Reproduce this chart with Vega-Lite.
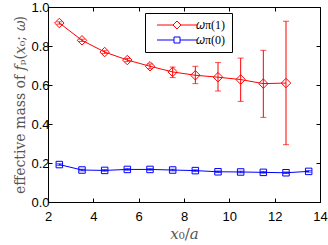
{
  "$schema": "https://vega.github.io/schema/vega-lite/v6.json",
  "width": 272,
  "height": 195,
  "autosize": {"type": "none"},
  "padding": {"left": 48, "top": 7, "right": 8, "bottom": 43},
  "background": "white",
  "config": {
    "view": {"stroke": "black", "strokeWidth": 1},
    "axis": {
      "grid": false,
      "domainColor": "black",
      "tickColor": "black",
      "tickSize": -4,
      "labelFont": "Liberation Sans",
      "labelFontSize": 13,
      "labelColor": "black",
      "labelOverlap": false,
      "labelFlush": false,
      "titleFont": "DejaVu Serif",
      "titleFontWeight": "normal",
      "titleColor": "#555555"
    }
  },
  "data": {
    "values": [
      {"series": "𝜔π(1)", "x": 2.5, "y": 0.918, "lo": 0.912, "hi": 0.924},
      {"series": "𝜔π(1)", "x": 3.5, "y": 0.829, "lo": 0.823, "hi": 0.835},
      {"series": "𝜔π(1)", "x": 4.5, "y": 0.769, "lo": 0.762, "hi": 0.776},
      {"series": "𝜔π(1)", "x": 5.5, "y": 0.728, "lo": 0.720, "hi": 0.736},
      {"series": "𝜔π(1)", "x": 6.5, "y": 0.696, "lo": 0.684, "hi": 0.708},
      {"series": "𝜔π(1)", "x": 7.5, "y": 0.667, "lo": 0.638, "hi": 0.692},
      {"series": "𝜔π(1)", "x": 8.5, "y": 0.650, "lo": 0.607, "hi": 0.696},
      {"series": "𝜔π(1)", "x": 9.5, "y": 0.640, "lo": 0.569, "hi": 0.715},
      {"series": "𝜔π(1)", "x": 10.5, "y": 0.628, "lo": 0.516, "hi": 0.738},
      {"series": "𝜔π(1)", "x": 11.5, "y": 0.607, "lo": 0.434, "hi": 0.778},
      {"series": "𝜔π(1)", "x": 12.5, "y": 0.610, "lo": 0.294, "hi": 0.927},
      {"series": "𝜔π(0)", "x": 2.5, "y": 0.192, "lo": 0.188, "hi": 0.196},
      {"series": "𝜔π(0)", "x": 3.5, "y": 0.164, "lo": 0.160, "hi": 0.168},
      {"series": "𝜔π(0)", "x": 4.5, "y": 0.162, "lo": 0.158, "hi": 0.166},
      {"series": "𝜔π(0)", "x": 5.5, "y": 0.167, "lo": 0.163, "hi": 0.171},
      {"series": "𝜔π(0)", "x": 6.5, "y": 0.167, "lo": 0.163, "hi": 0.171},
      {"series": "𝜔π(0)", "x": 7.5, "y": 0.164, "lo": 0.160, "hi": 0.168},
      {"series": "𝜔π(0)", "x": 8.5, "y": 0.161, "lo": 0.157, "hi": 0.165},
      {"series": "𝜔π(0)", "x": 9.5, "y": 0.155, "lo": 0.151, "hi": 0.159},
      {"series": "𝜔π(0)", "x": 10.5, "y": 0.154, "lo": 0.150, "hi": 0.158},
      {"series": "𝜔π(0)", "x": 11.5, "y": 0.152, "lo": 0.148, "hi": 0.156},
      {"series": "𝜔π(0)", "x": 12.5, "y": 0.150, "lo": 0.146, "hi": 0.154},
      {"series": "𝜔π(0)", "x": 13.5, "y": 0.157, "lo": 0.153, "hi": 0.161}
    ]
  },
  "resolve": {"axis": {"x": "independent", "y": "independent"}},
  "layer": [
    {
      "mark": {"type": "line", "strokeWidth": 1},
      "encoding": {
        "x": {"field": "x", "type": "quantitative", "scale": {"domain": [2, 14], "nice": false},
              "axis": {"orient": "bottom", "values": [2, 4, 6, 8, 10, 12, 14], "labelPadding": 12, "title": "𝑥₀/𝑎", "titleFontSize": 15, "titlePadding": 3}},
        "y": {"field": "y", "type": "quantitative", "scale": {"domain": [0, 1], "nice": false},
              "axis": {"orient": "left", "values": [0, 0.2, 0.4, 0.6, 0.8, 1.0], "format": ".1f", "labelPadding": 3, "title": "effective mass of 𝑓ₚ(𝑥₀; 𝜔)", "titleFontSize": 14, "titlePadding": 3}},
        "stroke": {"field": "series", "type": "nominal", "scale": {"range": ["#0000ff", "#ff0000"]}, "legend": null}
      }
    },
    {
      "mark": {"type": "rule", "strokeWidth": 1},
      "encoding": {
        "x": {"field": "x", "type": "quantitative", "axis": null},
        "y": {"field": "lo", "type": "quantitative", "axis": null},
        "y2": {"field": "hi"},
        "stroke": {"field": "series", "type": "nominal", "legend": null}
      }
    },
    {
      "mark": {"type": "tick", "orient": "horizontal", "size": 6, "thickness": 1},
      "encoding": {
        "x": {"field": "x", "type": "quantitative", "axis": null},
        "y": {"field": "lo", "type": "quantitative", "axis": null},
        "fill": {"field": "series", "type": "nominal", "scale": {"range": ["#0000ff", "#ff0000"]}, "legend": null}
      }
    },
    {
      "mark": {"type": "tick", "orient": "horizontal", "size": 6, "thickness": 1},
      "encoding": {
        "x": {"field": "x", "type": "quantitative", "axis": null},
        "y": {"field": "hi", "type": "quantitative", "axis": null},
        "fill": {"field": "series", "type": "nominal", "legend": null}
      }
    },
    {
      "transform": [{"filter": "datum.series == '𝜔π(1)'"}],
      "mark": {"type": "point", "shape": "diamond", "size": 90, "filled": false, "strokeWidth": 1, "color": "#ff0000", "opacity": 1},
      "encoding": {
        "x": {"field": "x", "type": "quantitative", "axis": {"orient": "top", "values": [2, 4, 6, 8, 10, 12, 14], "labels": false, "title": null, "domain": false}},
        "y": {"field": "y", "type": "quantitative", "axis": {"orient": "right", "values": [0, 0.2, 0.4, 0.6, 0.8, 1.0], "labels": false, "title": null, "domain": false}}
      }
    },
    {
      "transform": [{"filter": "datum.series == '𝜔π(0)'"}],
      "mark": {"type": "point", "shape": "square", "size": 42, "filled": false, "strokeWidth": 1, "color": "#0000ff", "opacity": 1},
      "encoding": {
        "x": {"field": "x", "type": "quantitative", "axis": null},
        "y": {"field": "y", "type": "quantitative", "axis": null}
      }
    },
    {
      "mark": {"type": "point", "filled": false, "strokeWidth": 1, "opacity": 1, "clip": true},
      "encoding": {
        "x": {"field": "lo", "type": "quantitative", "axis": null},
        "y": {"field": "y", "type": "quantitative", "axis": null},
        "color": {"field": "series", "type": "nominal",
                  "scale": {"domain": ["𝜔π(1)", "𝜔π(0)"], "range": ["#ff0000", "#0000ff"]},
                  "legend": {"orient": "none", "legendX": 97, "legendY": 6, "title": null, "strokeColor": "black", "fillColor": "white", "padding": 6, "symbolSize": 100, "symbolOffset": 20, "labelOffset": 13, "rowPadding": 3, "labelFont": "Liberation Serif", "labelFontSize": 12, "labelColor": "black", "symbolStrokeWidth": 1}},
        "shape": {"field": "series", "type": "nominal",
                  "scale": {"domain": ["𝜔π(1)", "𝜔π(0)"], "range": ["M-4,0H-0.8M0.8,0H4M0,-0.8L0.8,0L0,0.8L-0.8,0Z", "M-4,0H-0.6M0.6,0H4M-0.6,-0.6H0.6V0.6H-0.6Z"]},
                  "legend": {"orient": "none", "legendX": 97, "legendY": 6, "title": null, "strokeColor": "black", "fillColor": "white", "padding": 6, "symbolSize": 100, "symbolOffset": 20, "labelOffset": 13, "rowPadding": 3, "labelFont": "Liberation Serif", "labelFontSize": 12, "labelColor": "black", "symbolStrokeWidth": 1}}
      }
    }
  ]
}
